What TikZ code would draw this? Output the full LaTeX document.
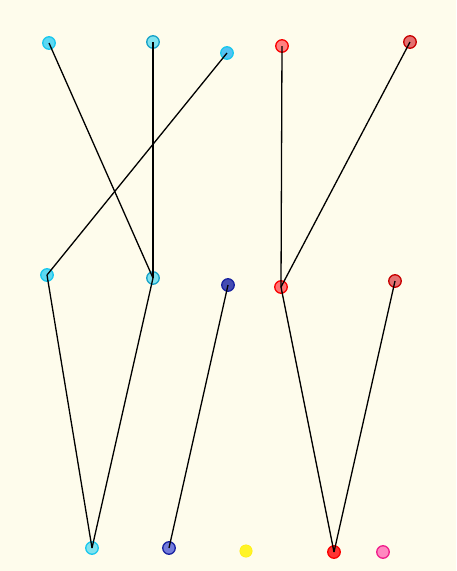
\documentclass[tikz,border=0pt]{standalone}
\usepackage{tikz}

\definecolor{paper}{RGB}{254,252,236}
\definecolor{cyanfill}{RGB}{92,216,242}
\definecolor{cyanline}{RGB}{25,200,238}
\definecolor{cyanpale}{RGB}{128,226,238}
\definecolor{cyandark}{RGB}{22,162,200}
\definecolor{redfill}{RGB}{255,128,128}
\definecolor{redline}{RGB}{250,0,0}
\definecolor{rosefill}{RGB}{228,112,112}
\definecolor{roseline}{RGB}{200,0,0}
\definecolor{bluefill}{RGB}{80,90,210}
\definecolor{blueline}{RGB}{25,35,160}
\definecolor{pinkfill}{RGB}{255,136,192}
\definecolor{pinkline}{RGB}{240,30,140}

\begin{document}
\begin{tikzpicture}[x=1pt, y=-1pt,
        dot/.style={draw, circle, line width=1.3pt, minimum size=12.5pt, inner sep=0pt},
        cyanA/.style={dot, fill=cyanfill, draw=cyanline},
        cyanB/.style={dot, fill=cyanpale, draw=cyandark},
        redA/.style={dot, fill=redfill, draw=redline},
        redB/.style={dot, fill=rosefill, draw=roseline},
        blueA/.style={dot, fill=bluefill, draw=blueline},
        edge/.style={line width=1.3pt}]
        \fill[paper] (0,0) rectangle (456,571);
        \useasboundingbox (0,0) rectangle (456,571);

        % top row
        \node[cyanA] (c1) at (49,43) {};
        \node[cyanB] (c2) at (153,42) {};
        \node[cyanA, fill=cyanfill!90!blue] (c3) at (227,53) {};
        \node[redA] (r1) at (282,46) {};
        \node[redB] (r2) at (410,42) {};

        % middle row
        \node[cyanA] (c4) at (47,275) {};
        \node[cyanB] (c5) at (153,278) {};
        \node[blueA, fill=bluefill!85!black] (b1) at (228,285) {};
        \node[redA, fill=redfill!90!red] (r3) at (281,287) {};
        \node[redB] (r4) at (395,281) {};

        % bottom row
        \node[cyanA, fill=cyanpale] (c6) at (92,548) {};
        \node[blueA, fill=bluefill!80!white] (b2) at (169,548) {};
        \node[dot, draw=yellow!95!orange, fill=yellow!85, line width=0.4pt] (y1) at (246,551) {};
        \node[redA, fill=red!80] (r5) at (334,552) {};
        \node[dot, fill=pinkfill, draw=pinkline] (p1) at (383,552) {};

        \draw[edge] (c1.center) -- (c5.center);
        \draw[edge] (c2.center) -- (c5.center);
        \draw[edge] (c3.center) -- (c4.center);
        \draw[edge] (r1.center) -- (r3.center);
        \draw[edge] (r2.center) -- (r3.center);
        \draw[edge] (c4.center) -- (c6.center);
        \draw[edge] (c5.center) -- (c6.center);
        \draw[edge] (b1.center) -- (b2.center);
        \draw[edge] (r3.center) -- (r5.center);
        \draw[edge] (r4.center) -- (r5.center);
    \end{tikzpicture}
\end{document}
